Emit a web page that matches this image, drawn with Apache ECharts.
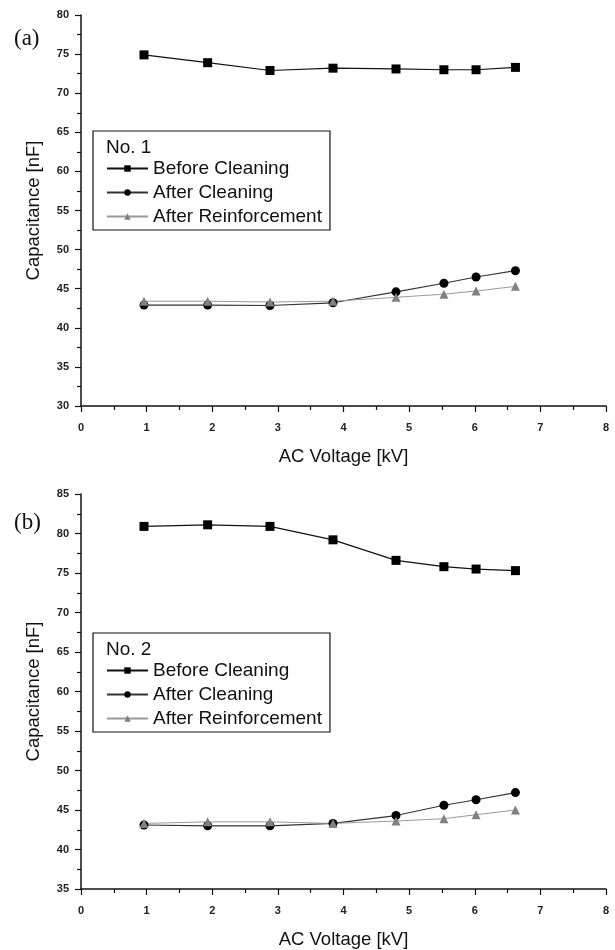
<!DOCTYPE html>
<html>
<head>
<meta charset="utf-8">
<script src="https://cdn.jsdelivr.net/npm/echarts@6/dist/echarts.min.js"></script>
<style>
  html, body { margin: 0; padding: 0; background: #fff; }
  #chart { width: 615px; height: 950px; }
</style>
</head>
<body>
<div id="chart"></div>
<script>
// AC voltage points (kV), shared by both panels
const voltage = [0.96, 1.93, 2.88, 3.84, 4.80, 5.53, 6.02, 6.62]

// panel (a) - No. 1
const aBefore = [74.9, 73.9, 72.9, 73.2, 73.1, 73.0, 73.0, 73.3]
const aAfterCleaning = [42.9, 42.9, 42.85, 43.2, 44.6, 45.7, 46.5, 47.3]
const aAfterReinf = [43.4, 43.4, 43.3, 43.4, 43.9, 44.3, 44.7, 45.3]

// panel (b) - No. 2
const bBefore = [80.9, 81.1, 80.9, 79.2, 76.6, 75.8, 75.5, 75.3]
const bAfterCleaning = [43.1, 43.0, 43.0, 43.3, 44.3, 45.6, 46.3, 47.2]
const bAfterReinf = [43.3, 43.5, 43.5, 43.3, 43.6, 43.9, 44.4, 45.0]

const seriesNames = ['Before Cleaning', 'After Cleaning', 'After Reinforcement']
const panelLabels = ['(a)', '(b)']
const sampleLabels = ['No. 1', 'No. 2']

const font = "'Liberation Sans', Arial, sans-serif"
const serif = "'Liberation Serif', 'DejaVu Serif', serif"

const pairs = (ys) => voltage.map((v, i) => [v, ys[i]])

function xAxisFor(gridIndex) {
  return {
    gridIndex,
    type: 'value',
    min: 0,
    max: 8,
    interval: 1,
    name: 'AC Voltage [kV]',
    nameLocation: 'middle',
    nameGap: 41,
    nameTextStyle: { fontFamily: font, fontSize: 18.5, color: '#111' },
    axisLine: { lineStyle: { color: '#111', width: 1.5 } },
    axisTick: { inside: false, length: 6, lineStyle: { color: '#111', width: 1.2 } },
    minorTick: { show: true, splitNumber: 2, length: 4, lineStyle: { color: '#111', width: 1.2 } },
    splitLine: { show: false },
    axisLabel: { fontFamily: font, fontSize: 11, fontWeight: 'bold', color: '#222', margin: 16 },
  }
}

function yAxisFor(gridIndex, min, max) {
  return {
    gridIndex,
    type: 'value',
    min,
    max,
    interval: 5,
    name: 'Capacitance [nF]',
    nameLocation: 'middle',
    nameGap: 38,
    nameTextStyle: { fontFamily: font, fontSize: 18.5, color: '#111' },
    axisLine: { show: true, lineStyle: { color: '#111', width: 1.5 } },
    axisTick: { show: true, inside: false, length: 6, lineStyle: { color: '#111', width: 1.2 } },
    minorTick: { show: true, splitNumber: 2, length: 4, lineStyle: { color: '#111', width: 1.2 } },
    splitLine: { show: false },
    axisLabel: { fontFamily: font, fontSize: 11, fontWeight: 'bold', color: '#222', margin: 12 },
  }
}

function seriesFor(idx, before, afterCleaning, afterReinf) {
  return [
    {
      name: seriesNames[0], type: 'line', xAxisIndex: idx, yAxisIndex: idx,
      data: pairs(before), symbol: 'rect', symbolSize: 9,
      itemStyle: { color: '#000' },
      lineStyle: { color: '#111', width: 1.2 },
    },
    {
      name: seriesNames[1], type: 'line', xAxisIndex: idx, yAxisIndex: idx,
      data: pairs(afterCleaning), symbol: 'circle', symbolSize: 9,
      itemStyle: { color: '#000' },
      lineStyle: { color: '#333', width: 1.2 },
    },
    {
      name: seriesNames[2], type: 'line', xAxisIndex: idx, yAxisIndex: idx,
      data: pairs(afterReinf), symbol: 'triangle', symbolSize: 9,
      itemStyle: { color: '#808080' },
      lineStyle: { color: '#9a9a9a', width: 1 },
    },
  ]
}

function legendAt(top) {
  return {
    data: seriesNames,
    orient: 'vertical',
    left: 93,
    top,
    padding: [28, 8, 4, 13],
    itemWidth: 41,
    itemHeight: 8,
    itemGap: 5,
    borderColor: '#111',
    borderWidth: 1.2,
    selectedMode: false,
    textStyle: { fontFamily: font, fontSize: 19, lineHeight: 17.5, color: '#111' },
  }
}

const chart = echarts.init(document.getElementById('chart'), null, { renderer: 'canvas' })

chart.setOption({
  backgroundColor: '#fff',
  animation: false,
  title: [
    { text: panelLabels[0], left: 14, top: 27, padding: 0,
      textStyle: { fontFamily: serif, fontSize: 23, fontWeight: 'normal', color: '#111' } },
    { text: panelLabels[1], left: 14, top: 511, padding: 0,
      textStyle: { fontFamily: serif, fontSize: 23, fontWeight: 'normal', color: '#111' } },
    { text: sampleLabels[0], left: 106, top: 138, padding: 0,
      textStyle: { fontFamily: font, fontSize: 19, fontWeight: 'normal', color: '#111' } },
    { text: sampleLabels[1], left: 106, top: 640, padding: 0,
      textStyle: { fontFamily: font, fontSize: 19, fontWeight: 'normal', color: '#111' } },
  ],
  legend: [legendAt(131), legendAt(633)],
  grid: [
    { left: 81, top: 15, width: 525, height: 391 },
    { left: 81, top: 494, width: 525, height: 395 },
  ],
  xAxis: [xAxisFor(0), xAxisFor(1)],
  yAxis: [yAxisFor(0, 30, 80), yAxisFor(1, 35, 85)],
  series: [
    ...seriesFor(0, aBefore, aAfterCleaning, aAfterReinf),
    ...seriesFor(1, bBefore, bAfterCleaning, bAfterReinf),
  ],
})
</script>
</body>
</html>
